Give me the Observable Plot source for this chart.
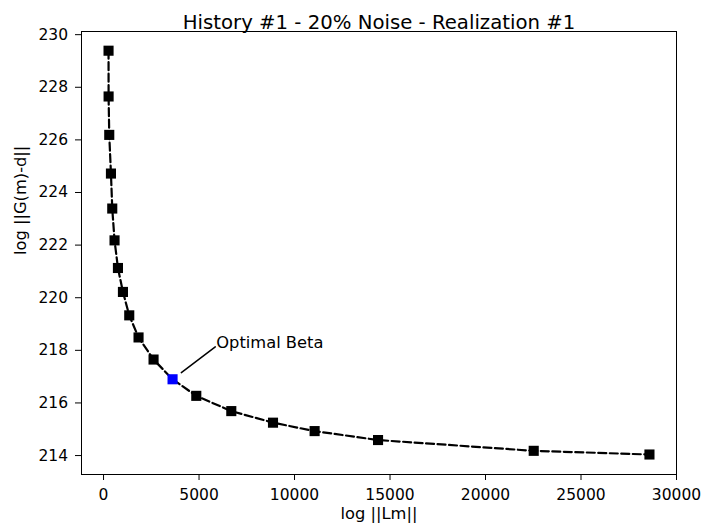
<!DOCTYPE html>
<html>
<head>
<meta charset="utf-8">
<script src="https://cdn.jsdelivr.net/npm/d3@7"></script>
<script src="https://cdn.jsdelivr.net/npm/@observablehq/plot@0.6"></script>
<style>
  html, body { margin: 0; padding: 0; background: #fff; }
  svg { display: block; }
</style>
</head>
<body>
<div id="chart"></div>
<script>
// L-curve: regularization norm vs data misfit for each beta
const lmNorm = [262, 265, 299, 388, 456, 576, 754, 1016, 1346, 1833, 2619, 3614, 4856, 6689, 8873, 11052, 14373, 22524, 28584];
const misfit = [229.39, 227.65, 226.19, 224.72, 223.39, 222.18, 221.13, 220.22, 219.33, 218.49, 217.65, 216.90, 216.27, 215.69, 215.25, 214.93, 214.59, 214.18, 214.04];
const optimalIndex = 11;

const xTicks = [0, 5000, 10000, 15000, 20000, 25000, 30000];
const yTicks = [214, 216, 218, 220, 222, 224, 226, 228, 230];

const titleText = "History #1 - 20% Noise - Realization #1";
const xLabel = "log ||Lm||";
const yLabel = "log ||G(m)-d||";
const annotText = "Optimal Beta";
const annotX = 5850;
const annotY = 218.13;

const points = lmNorm.map((x, i) => ({x, y: misfit[i], optimal: i === optimalIndex}));
const optimal = points[optimalIndex];

const font = "DejaVu Sans, sans-serif";

const chart = Plot.plot({
  width: 702,
  height: 532,
  marginLeft: 81,
  marginRight: 26,
  marginTop: 31,
  marginBottom: 58,
  style: {fontFamily: font, fontSize: "15.5px", color: "#000", background: "#fff"},
  x: {domain: [-1154, 30000]},
  y: {domain: [213.28, 230.12]},
  marks: [
    Plot.frame({stroke: "#000", strokeWidth: 1}),
    Plot.axisX({ticks: xTicks, tickSize: 6, tickPadding: 8, label: null, fontSize: 15.5, tickFormat: d => String(d)}),
    Plot.axisY({ticks: yTicks, tickSize: 6, tickPadding: 7.5, label: null, fontSize: 15.5, tickFormat: d => String(d)}),
    Plot.line(points, {x: "x", y: "y", stroke: "#000", strokeWidth: 2.2, strokeDasharray: "8,3.5"}),
    Plot.dot(points, {x: "x", y: "y", symbol: "square", r: 5.7, fill: d => d.optimal ? "#0000ff" : "#000", stroke: "none"}),
    // annotation pointer from the optimal beta to its label
    Plot.arrow([optimal], {x1: "x", y1: "y", x2: () => annotX, y2: () => annotY, headLength: 0, insetStart: 11, stroke: "#000", strokeWidth: 1.5, bend: 0}),
    Plot.text([annotText], {x: () => annotX, y: () => annotY, text: d => d, textAnchor: "start", lineAnchor: "middle", dy: -4, dx: 1, fontSize: 16.3, fill: "#000"}),
    Plot.text([titleText], {frameAnchor: "top", dy: -17, text: d => d, fontSize: 19.7, fill: "#000"}),
    Plot.text([xLabel], {frameAnchor: "bottom", dy: 44, text: d => d, fontSize: 16.3, fill: "#000"}),
    Plot.text([yLabel], {frameAnchor: "left", dx: -61, dy: 2, rotate: -90, text: d => d, fontSize: 16.3, fill: "#000"})
  ]
});

document.getElementById("chart").appendChild(chart);
</script>
</body>
</html>
